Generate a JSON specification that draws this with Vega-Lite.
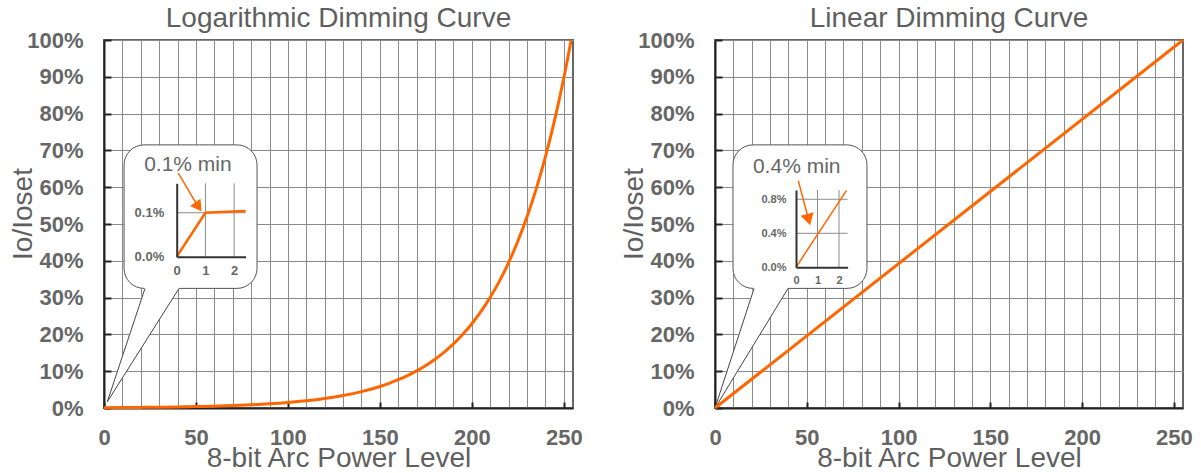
{
  "$schema": "https://vega.github.io/schema/vega-lite/v6.json",
  "background": "white",
  "padding": {"left": 8, "top": 4, "right": 0, "bottom": 0},
  "spacing": 35,
  "datasets": {
    "log": [
      {"x": 0, "y": 0}, {"x": 1, "y": 0.1}, {"x": 10, "y": 0.128}, {"x": 20, "y": 0.168},
      {"x": 30, "y": 0.221}, {"x": 40, "y": 0.29}, {"x": 50, "y": 0.381}, {"x": 60, "y": 0.501},
      {"x": 70, "y": 0.658}, {"x": 80, "y": 0.865}, {"x": 90, "y": 1.136}, {"x": 100, "y": 1.49},
      {"x": 110, "y": 1.96}, {"x": 120, "y": 2.58}, {"x": 130, "y": 3.39}, {"x": 140, "y": 4.45},
      {"x": 150, "y": 5.85}, {"x": 155, "y": 6.7}, {"x": 160, "y": 7.68}, {"x": 165, "y": 8.81},
      {"x": 170, "y": 10.09}, {"x": 175, "y": 11.57}, {"x": 180, "y": 13.26}, {"x": 185, "y": 15.2},
      {"x": 190, "y": 17.43}, {"x": 195, "y": 19.97}, {"x": 200, "y": 22.9}, {"x": 205, "y": 26.24},
      {"x": 210, "y": 30.09}, {"x": 215, "y": 34.48}, {"x": 220, "y": 39.53}, {"x": 225, "y": 45.31},
      {"x": 230, "y": 51.94}, {"x": 235, "y": 59.54}, {"x": 240, "y": 68.25}, {"x": 245, "y": 78.22},
      {"x": 250, "y": 89.68}, {"x": 252, "y": 94.68}, {"x": 254, "y": 100}
    ],
    "lin": [{"x": 0, "y": 0}, {"x": 255, "y": 100}],
    "bubbleL": [{"x": 10.9, "x2": 83.2, "y": 32.5, "y2": 71.5}],
    "bubbleR": [{"x": 9.8, "x2": 82.8, "y": 32.5, "y2": 71.5}],
    "ptrFillL": [{"x": 1.8, "y": 1.7, "y2": 1.7}, {"x": 22.3, "y": 17.9, "y2": 33.2}, {"x": 40.8, "y": 32.5, "y2": 33.2}],
    "ptrFillR": [{"x": 0, "y": 0, "y2": 0}, {"x": 21.3, "y": 17.4, "y2": 33.2}, {"x": 39.8, "y": 32.5, "y2": 33.2}],
    "ptrEdgeL": [{"x": 1.8, "y": 1.7, "e": "a"}, {"x": 22.3, "y": 32.5, "e": "a"}, {"x": 1.8, "y": 1.7, "e": "b"}, {"x": 40.8, "y": 32.5, "e": "b"}],
    "ptrEdgeR": [{"x": 0, "y": 0, "e": "a"}, {"x": 21.3, "y": 32.5, "e": "a"}, {"x": 0, "y": 0, "e": "b"}, {"x": 39.8, "y": 32.5, "e": "b"}],
    "insetGridL": [{"x": 1, "x2": 1, "y": 0, "y2": 0.167}, {"x": 2, "x2": 2, "y": 0, "y2": 0.167}, {"x": 0, "x2": 2.4, "y": 0.1, "y2": 0.1}],
    "insetGridR": [{"x": 1, "x2": 1, "y": 0, "y2": 0.909}, {"x": 2, "x2": 2, "y": 0, "y2": 0.909}, {"x": 0, "x2": 2.4, "y": 0.4, "y2": 0.4}, {"x": 0, "x2": 2.4, "y": 0.8, "y2": 0.8}],
    "insetLineL": [{"x": 0, "y": 0}, {"x": 1, "y": 0.1}, {"x": 2.4, "y": 0.104}],
    "insetLineR": [{"x": 0, "y": 0}, {"x": 2.35, "y": 0.905}],
    "arrowL": [{"x": 0.056, "y": 0.19}, {"x": 0.72, "y": 0.117}],
    "arrowR": [{"x": 0.107, "y": 1.019}, {"x": 0.563, "y": 0.583}],
    "headL": [{"x": 0.72, "y": 0.117}],
    "headR": [{"x": 0.563, "y": 0.583}],
    "noteL": [{"x": 0.39, "y": 0.208, "label": "0.1% min"}],
    "noteR": [{"x": 0.033, "y": 1.18, "label": "0.4% min"}]
  },
  "hconcat": [
    {
      "title": {"text": "Logarithmic Dimming Curve"},
      "width": 469,
      "height": 368,
      "resolve": {"scale": {"x": "independent", "y": "independent"}},
      "layer": [
        {
          "encoding": {
            "x": {
              "field": "x", "type": "quantitative",
              "scale": {"domain": [0, 255], "nice": false, "zero": false},
              "axis": {
                "title": "8-bit Arc Power Level",
                "values": [0, 10, 20, 30, 40, 50, 60, 70, 80, 90, 100, 110, 120, 130, 140, 150, 160, 170, 180, 190, 200, 210, 220, 230, 240, 250],
                "labelExpr": "datum.value % 50 === 0 ? datum.label : ''",
                "grid": true, "gridColor": "#8a8a8a", "gridWidth": 1,
                "domainColor": "#222", "domainWidth": 2,
                "tickSize": -6, "tickWidth": 2,
                "tickColor": {"condition": {"test": "datum.value % 50 === 0", "value": "#222"}, "value": "rgba(0,0,0,0)"},
                "labelFontSize": 22, "labelFontWeight": "bold", "labelColor": "#666",
                "labelPadding": 25, "labelFlush": false, "labelOverlap": false,
                "titleFontSize": 28, "titleFontWeight": "normal", "titleColor": "#5f5f5f",
                "titleBaseline": "alphabetic", "titleY": 58
              }
            },
            "y": {
              "field": "y", "type": "quantitative",
              "scale": {"domain": [0, 100], "nice": false},
              "axis": {
                "title": "Io/Ioset",
                "values": [0, 10, 20, 30, 40, 50, 60, 70, 80, 90, 100],
                "labelExpr": "datum.value + '%'",
                "grid": true, "gridColor": "#8a8a8a", "gridWidth": 1,
                "domainColor": "#222", "domainWidth": 2,
                "tickSize": -7, "tickWidth": 2, "tickColor": "#222",
                "labelFontSize": 22, "labelFontWeight": "bold", "labelColor": "#666",
                "labelPadding": 28, "labelOverlap": false,
                "titleFontSize": 28, "titleFontWeight": "normal", "titleColor": "#5f5f5f",
                "titleBaseline": "alphabetic", "titleX": -73, "titleY": 173.5
              }
            }
          },
          "layer": [
            {"data": {"name": "bubbleL"}, "mark": {"type": "rect", "fill": "white", "stroke": "#555", "strokeWidth": 1, "cornerRadius": 20}, "encoding": {"x2": {"field": "x2"}, "y2": {"field": "y2"}}},
            {"data": {"name": "ptrFillL"}, "mark": {"type": "area", "color": "white", "opacity": 1}, "encoding": {"y2": {"field": "y2"}}},
            {"data": {"name": "ptrEdgeL"}, "mark": {"type": "line", "color": "#444", "strokeWidth": 1}, "encoding": {"detail": {"field": "e"}}},
            {"data": {"name": "log"}, "mark": {"type": "line", "color": "#ff6600", "strokeWidth": 3, "interpolate": "monotone"}, "encoding": {}}
          ]
        },
        {
          "encoding": {
            "x": {
              "field": "x", "type": "quantitative",
              "scale": {"domain": [0, 2.4], "range": [72.7, 141.6], "nice": false, "zero": false},
              "axis": {
                "orient": "bottom", "offset": -151.3, "values": [0, 1, 2], "format": "d", "title": null,
                "grid": false, "ticks": false, "domainColor": "#333", "domainWidth": 2,
                "labelFontSize": 13, "labelFontWeight": "bold", "labelColor": "#666",
                "labelPadding": 8, "labelFlush": false, "labelOverlap": false, "zindex": 1
              }
            },
            "y": {
              "field": "y", "type": "quantitative",
              "scale": {"domain": [0, 0.167], "range": [216.7, 143.3], "nice": false, "zero": false},
              "axis": {
                "orient": "left", "offset": -72.7, "values": [0, 0.1],
                "labelExpr": "format(datum.value, '.1f') + '%'", "title": null,
                "grid": false, "ticks": false, "domainColor": "#333", "domainWidth": 2,
                "labelFontSize": 13, "labelFontWeight": "bold", "labelColor": "#666",
                "labelPadding": 13, "labelOverlap": false, "zindex": 1
              }
            }
          },
          "layer": [
            {"data": {"name": "insetGridL"}, "mark": {"type": "rule", "color": "#8a8a8a", "strokeWidth": 1}, "encoding": {"x2": {"field": "x2"}, "y2": {"field": "y2"}}},
            {"data": {"name": "insetLineL"}, "mark": {"type": "line", "color": "#ff6600", "strokeWidth": 2.5}, "encoding": {}},
            {"data": {"name": "arrowL"}, "mark": {"type": "line", "color": "#ff6600", "strokeWidth": 1.5}, "encoding": {}},
            {"data": {"name": "headL"}, "mark": {"type": "point", "shape": "triangle", "angle": 145, "size": 160, "filled": true, "color": "#ff6600", "opacity": 1}},
            {"data": {"name": "noteL"}, "mark": {"type": "text", "fontSize": 21, "color": "#666", "align": "center", "baseline": "middle"}, "encoding": {"text": {"field": "label"}}}
          ]
        }
      ]
    },
    {
      "title": {"text": "Linear Dimming Curve"},
      "width": 468,
      "height": 368,
      "resolve": {"scale": {"x": "independent", "y": "independent"}},
      "layer": [
        {
          "encoding": {
            "x": {
              "field": "x", "type": "quantitative",
              "scale": {"domain": [0, 255], "nice": false, "zero": false},
              "axis": {
                "title": "8-bit Arc Power Level",
                "values": [0, 10, 20, 30, 40, 50, 60, 70, 80, 90, 100, 110, 120, 130, 140, 150, 160, 170, 180, 190, 200, 210, 220, 230, 240, 250],
                "labelExpr": "datum.value % 50 === 0 ? datum.label : ''",
                "grid": true, "gridColor": "#8a8a8a", "gridWidth": 1,
                "domainColor": "#222", "domainWidth": 2,
                "tickSize": -6, "tickWidth": 2,
                "tickColor": {"condition": {"test": "datum.value % 50 === 0", "value": "#222"}, "value": "rgba(0,0,0,0)"},
                "labelFontSize": 22, "labelFontWeight": "bold", "labelColor": "#666",
                "labelPadding": 25, "labelFlush": false, "labelOverlap": false,
                "titleFontSize": 28, "titleFontWeight": "normal", "titleColor": "#5f5f5f",
                "titleBaseline": "alphabetic", "titleY": 58
              }
            },
            "y": {
              "field": "y", "type": "quantitative",
              "scale": {"domain": [0, 100], "nice": false},
              "axis": {
                "title": "Io/Ioset",
                "values": [0, 10, 20, 30, 40, 50, 60, 70, 80, 90, 100],
                "labelExpr": "datum.value + '%'",
                "grid": true, "gridColor": "#8a8a8a", "gridWidth": 1,
                "domainColor": "#222", "domainWidth": 2,
                "tickSize": -7, "tickWidth": 2, "tickColor": "#222",
                "labelFontSize": 22, "labelFontWeight": "bold", "labelColor": "#666",
                "labelPadding": 28, "labelOverlap": false,
                "titleFontSize": 28, "titleFontWeight": "normal", "titleColor": "#5f5f5f",
                "titleBaseline": "alphabetic", "titleX": -73, "titleY": 173.5
              }
            }
          },
          "layer": [
            {"data": {"name": "bubbleR"}, "mark": {"type": "rect", "fill": "white", "stroke": "#555", "strokeWidth": 1, "cornerRadius": 20}, "encoding": {"x2": {"field": "x2"}, "y2": {"field": "y2"}}},
            {"data": {"name": "ptrFillR"}, "mark": {"type": "area", "color": "white", "opacity": 1}, "encoding": {"y2": {"field": "y2"}}},
            {"data": {"name": "ptrEdgeR"}, "mark": {"type": "line", "color": "#444", "strokeWidth": 1}, "encoding": {"detail": {"field": "e"}}},
            {"data": {"name": "lin"}, "mark": {"type": "line", "color": "#ff6600", "strokeWidth": 3}, "encoding": {}}
          ]
        },
        {
          "encoding": {
            "x": {
              "field": "x", "type": "quantitative",
              "scale": {"domain": [0, 2.4], "range": [81, 132.6], "nice": false, "zero": false},
              "axis": {
                "orient": "bottom", "offset": -140.7, "values": [0, 1, 2], "format": "d", "title": null,
                "grid": false, "ticks": false, "domainColor": "#333", "domainWidth": 2,
                "labelFontSize": 11, "labelFontWeight": "bold", "labelColor": "#666",
                "labelPadding": 7, "labelFlush": false, "labelOverlap": false, "zindex": 1
              }
            },
            "y": {
              "field": "y", "type": "quantitative",
              "scale": {"domain": [0, 0.909], "range": [227.3, 150], "nice": false, "zero": false},
              "axis": {
                "orient": "left", "offset": -81, "values": [0, 0.4, 0.8],
                "labelExpr": "format(datum.value, '.1f') + '%'", "title": null,
                "grid": false, "ticks": false, "domainColor": "#333", "domainWidth": 2,
                "labelFontSize": 11, "labelFontWeight": "bold", "labelColor": "#666",
                "labelPadding": 10, "labelOverlap": false, "zindex": 1
              }
            }
          },
          "layer": [
            {"data": {"name": "insetGridR"}, "mark": {"type": "rule", "color": "#8a8a8a", "strokeWidth": 1}, "encoding": {"x2": {"field": "x2"}, "y2": {"field": "y2"}}},
            {"data": {"name": "insetLineR"}, "mark": {"type": "line", "color": "#ff6600", "strokeWidth": 1.5}, "encoding": {}},
            {"data": {"name": "arrowR"}, "mark": {"type": "line", "color": "#ff6600", "strokeWidth": 1.5}, "encoding": {}},
            {"data": {"name": "headR"}, "mark": {"type": "point", "shape": "triangle", "angle": 165, "size": 180, "filled": true, "color": "#ff6600", "opacity": 1}},
            {"data": {"name": "noteR"}, "mark": {"type": "text", "fontSize": 21, "color": "#666", "align": "center", "baseline": "middle"}, "encoding": {"text": {"field": "label"}}}
          ]
        }
      ]
    }
  ],
  "config": {
    "font": "Liberation Sans",
    "view": {"stroke": "#666", "strokeWidth": 2},
    "title": {"fontSize": 28, "fontWeight": "normal", "color": "#5f5f5f", "frame": "group", "anchor": "middle", "baseline": "alphabetic", "offset": -4},
    "axis": {"labelFont": "Liberation Sans", "titleFont": "Liberation Sans"}
  }
}
